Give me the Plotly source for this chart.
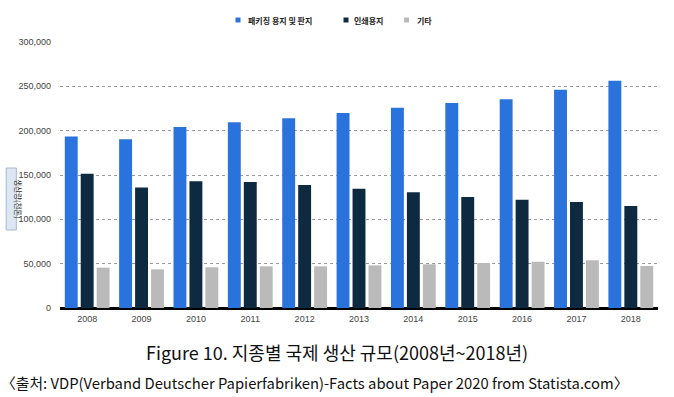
import plotly.graph_objects as go

years = ["2008", "2009", "2010", "2011", "2012", "2013", "2014", "2015", "2016", "2017", "2018"]
packaging = [193500, 190200, 204000, 209400, 213900, 219800, 225900, 231200, 235300, 246200, 256400]
printing = [151500, 136000, 142900, 142100, 138700, 134500, 130500, 125200, 122200, 119500, 115000]
others = [45500, 43600, 45900, 47000, 47000, 48100, 49300, 50700, 52200, 53800, 47400]
series_names = ["패키징 용지 및 판지", "인쇄용지", "기타"]
y_ticks = [0, 50000, 100000, 150000, 200000, 250000, 300000]
y_ticktext = ["0", "50,000", "100,000", "150,000", "200,000", "250,000", "300,000"]

colors = ["#2a73dc", "#0e2a41", "#bababa"]

fig = go.Figure()
for name, vals, c in zip(series_names, [packaging, printing, others], colors):
    fig.add_trace(go.Bar(x=years, y=vals, name=name, showlegend=False,
                         marker=dict(color=c, line=dict(width=0))))

fig.update_layout(
    width=674, height=397,
    margin=dict(l=60, r=16, t=42, b=89, autoexpand=False),
    paper_bgcolor="white", plot_bgcolor="white",
    barmode="group", bargap=0.12, bargroupgap=0.19,
    font=dict(family="Liberation Sans, Arial, sans-serif", color="#444444", size=9),
    showlegend=False,
    xaxis=dict(type="category", showgrid=False, showline=False, ticks="",
               tickfont=dict(size=9, color="#444444"), ticklabelstandoff=4),
    yaxis=dict(range=[0, 300000], tickvals=y_ticks, ticktext=y_ticktext,
               showgrid=True, gridcolor="#9a9a9a", griddash="dot", gridwidth=1,
               zeroline=True, zerolinecolor="#000000", zerolinewidth=3,
               showline=False, ticks="", tickfont=dict(size=9, color="#444444"),
               ticklabelstandoff=8),
)

def px(x):
    return (x - 60) / 598

def py(y):
    return (308 - y) / 266

# legend (small squares + labels) at the top
legend_marker_x = [238, 346, 406.5]
legend_text_x = [246, 352, 415]
for name, c, mx, tx in zip(series_names, colors, legend_marker_x, legend_text_x):
    fig.add_shape(type="rect", xref="paper", yref="paper", xsizemode="pixel", ysizemode="pixel",
                  xanchor=px(mx), yanchor=py(20), x0=-2.5, x1=2.5, y0=-2.5, y1=2.5,
                  fillcolor=c, line=dict(width=0))
    fig.add_annotation(xref="paper", yref="paper", x=px(tx), y=py(20), xanchor="left", yanchor="middle",
                       text="<b>" + name + "</b>", showarrow=False,
                       font=dict(family="Noto Sans CJK KR", size=8, color="#222222"))

# y-axis title box
fig.add_shape(type="rect", xref="paper", yref="paper",
              x0=-0.09, x1=-0.073, y0=py(230), y1=py(168),
              fillcolor="#dce6f4", line=dict(color="#a8b8d0", width=1), layer="above")
fig.add_annotation(xref="paper", yref="paper", x=-0.0815, y=py(199),
                   text="생산량(천톤)", textangle=90, showarrow=False,
                   font=dict(family="Noto Sans CJK KR", size=7.5, color="#333333"))

fig.add_annotation(xref="paper", yref="paper", x=px(337), y=py(352), xanchor="center", yanchor="middle",
                   text="Figure 10. 지종별 국제 생산 규모(2008년~2018년)", showarrow=False,
                   font=dict(family="Noto Sans CJK KR", size=18, color="#111111"))
fig.add_annotation(xref="paper", yref="paper", x=px(1), y=py(382), xanchor="left", yanchor="middle",
                   text="〈출처: VDP(Verband Deutscher Papierfabriken)-Facts about Paper 2020 from Statista.com〉",
                   showarrow=False, borderpad=0, borderwidth=0,
                   font=dict(family="Noto Sans CJK KR", size=14.8, color="#111111"))

fig.write_html("out.html", config={"displayModeBar": False},
               post_script="document.body.style.margin='0';document.body.style.overflow='hidden';")
